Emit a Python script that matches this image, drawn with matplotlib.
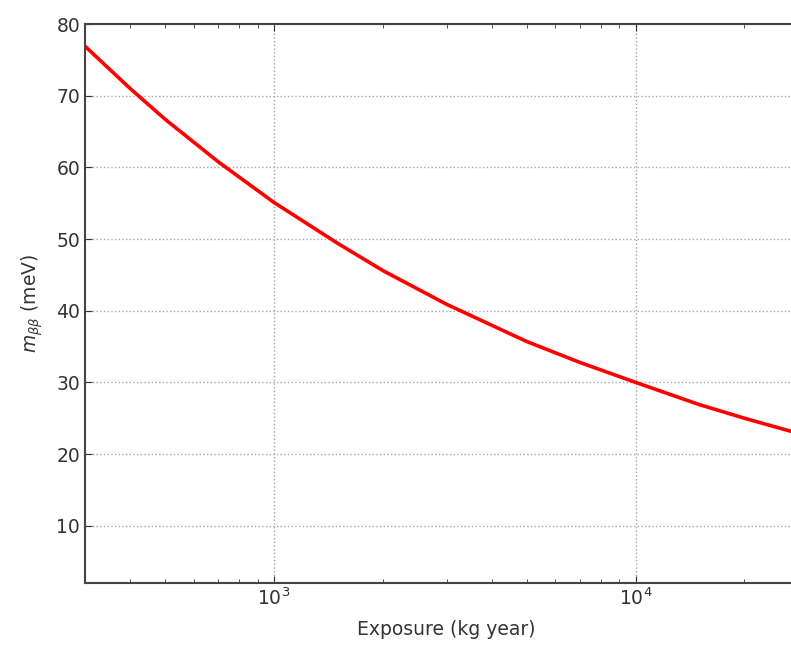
import matplotlib
matplotlib.use("Agg")
import matplotlib.pyplot as plt

# values
exposure = [300, 400, 500, 700, 1000, 1500, 2000, 3000, 5000, 7000, 10000, 15000, 20000, 30000]
m_bb = [76.9, 71.0, 66.7, 60.8, 55.1, 49.4, 45.6, 40.9, 35.7, 32.8, 30.0, 26.9, 25.0, 22.5]

yticks = [10, 20, 30, 40, 50, 60, 70, 80]

fig = plt.figure(figsize=(7.91, 6.46), dpi=100)
# right edge of the axes sits just past the picture, as in the reference crop
ax = fig.add_axes([0.1075, 0.0975, 0.914, 0.8653])

ax.plot(exposure, m_bb, color="red", lw=2.6)
ax.set_xscale("log")
ax.set_xlim(300, 30000)
ax.set_ylim(2, 80)
ax.set_yticks(yticks)

ax.grid(True, which="major", color="0.65", linestyle=":", lw=1)
ax.tick_params(which="both", direction="in", top=True, right=True, labelsize=13.5, colors="#333333")
ax.tick_params(which="major", length=5)
ax.tick_params(which="minor", length=3)
for s in ax.spines.values():
    s.set_linewidth(1.5)
    s.set_color("#444444")

ax.set_xlabel("Exposure (kg year)", fontsize=13.5, color="#333333", labelpad=8)
ax.set_ylabel(r"$m_{\beta\beta}$ (meV)", fontsize=13.5, color="#333333", labelpad=8)

fig.savefig("out.png", dpi=100)
